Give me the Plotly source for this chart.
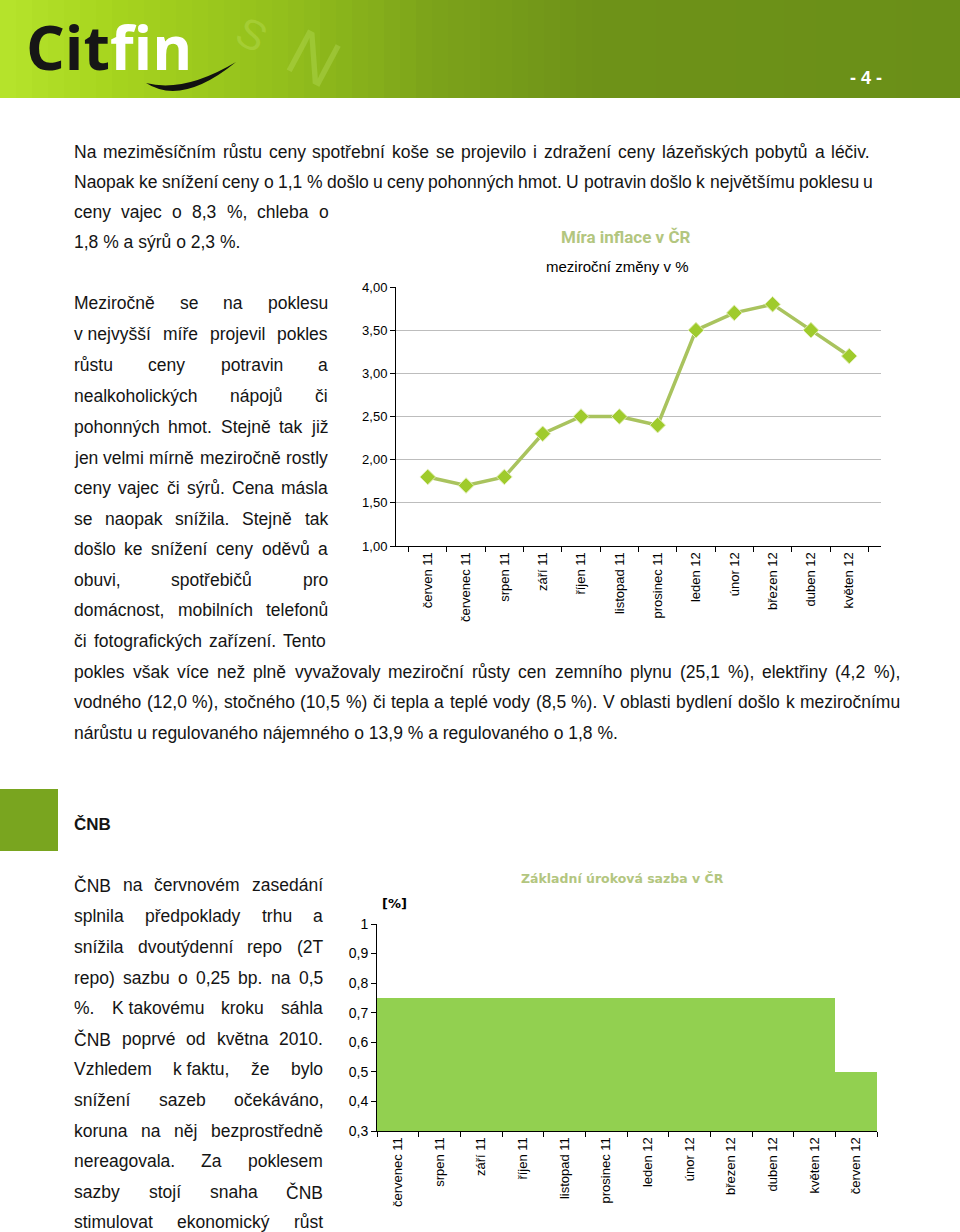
import plotly.graph_objects as go

W, H = 960, 1232

# ---------------- data ----------------
infl_months = ["červen 11", "červenec 11", "srpen 11", "září 11", "říjen 11", "listopad 11",
               "prosinec 11", "leden 12", "únor 12", "březen 12", "duben 12", "květen 12"]
infl_values = [1.8, 1.7, 1.8, 2.3, 2.5, 2.5, 2.4, 3.5, 3.7, 3.8, 3.5, 3.2]
infl_ticks = [1.0, 1.5, 2.0, 2.5, 3.0, 3.5, 4.0]

rate_months = ["červenec 11", "srpen 11", "září 11", "říjen 11", "listopad 11", "prosinec 11",
               "leden 12", "únor 12", "březen 12", "duben 12", "květen 12", "červen 12"]
rate_values = [0.75, 0.75, 0.75, 0.75, 0.75, 0.75, 0.75, 0.75, 0.75, 0.75, 0.75, 0.5]
rate_tickvals = [0.3, 0.4, 0.5, 0.6, 0.7, 0.8, 0.9, 1.0]
rate_ticktext = ["0,3", "0,4", "0,5", "0,6", "0,7", "0,8", "0,9", "1"]

NB = "\u00a0"
# (y centre px, text, mode, left px, right px)
body_lines = [
    (152, "Na meziměsíčním růstu ceny spotřební koše se projevilo i zdražení ceny lázeňských pobytů a léčiv.", "j", 73, 870),
    (182, "Naopak ke snížení ceny o 1,1 % došlo u ceny pohonných hmot. U potravin došlo k největšímu poklesu u", "j", 73, 872),
    (212, "ceny vajec o 8,3 %, chleba o", "j", 73, 328),
    (242, "1,8 % a sýrů o 2,3 %.", "l", 73, 328),
    (303, "Meziročně se na poklesu", "j", 73, 327),
    (334, "v" + NB + "nejvyšší míře projevil pokles", "j", 73, 327),
    (365, "růstu ceny potravin a", "j", 73, 327),
    (396, "nealkoholických nápojů či", "j", 73, 327),
    (427, "pohonných hmot. Stejně tak již", "j", 73, 327),
    (458, "jen velmi mírně meziročně rostly", "j", 73, 327),
    (488, "ceny vajec či sýrů. Cena másla", "j", 73, 327),
    (519, "se naopak snížila. Stejně tak", "j", 73, 327),
    (549, "došlo ke snížení ceny oděvů a", "j", 73, 327),
    (580, "obuvi, spotřebičů pro", "j", 73, 327),
    (610, "domácnost, mobilních telefonů", "j", 73, 327),
    (641, "či fotografických zařízení. Tento", "j", 73, 327),
    (672, "pokles však více než plně vyvažovaly meziroční růsty cen zemního plynu (25,1 %), elektřiny (4,2 %),", "j", 73, 899),
    (702, "vodného (12,0 %), stočného (10,5 %) či tepla a teplé vody (8,5 %). V oblasti bydlení došlo k meziročnímu", "j", 73, 899),
    (733, "nárůstu u regulovaného nájemného o 13,9 % a regulovaného o 1,8 %.", "l", 73, 899),
    (885, "ČNB na červnovém zasedání", "j", 73, 322),
    (916, "splnila předpoklady trhu a", "j", 73, 322),
    (947, "snížila dvoutýdenní repo (2T", "j", 73, 322),
    (978, "repo) sazbu o 0,25 bp. na 0,5", "j", 73, 322),
    (1008, "%. K" + NB + "takovému kroku sáhla", "j", 73, 322),
    (1039, "ČNB poprvé od května 2010.", "j", 73, 322),
    (1069, "Vzhledem k" + NB + "faktu, že bylo", "j", 73, 322),
    (1100, "snížení sazeb očekáváno,", "j", 73, 322),
    (1131, "koruna na něj bezprostředně", "j", 73, 322),
    (1161, "nereagovala. Za poklesem", "j", 73, 322),
    (1192, "sazby stojí snaha ČNB", "j", 73, 322),
    (1222, "stimulovat ekonomický růst", "j", 73, 322),
]

# ---------------- helpers ----------------
def px(x):
    return x / W


def py(y):
    return 1 - y / H


AW = {" ": 278, NB: 278, "!": 278, "%": 889, "(": 333, ")": 333, ",": 278, "-": 333, ".": 278,
      ":": 278, ";": 278}
for c in "0123456789":
    AW[c] = 556
AW.update({"A": 667, "B": 667, "C": 722, "D": 722, "E": 667, "F": 611, "G": 778, "H": 722, "I": 278,
           "J": 500, "K": 667, "L": 556, "M": 833, "N": 722, "O": 778, "P": 667, "Q": 778, "R": 722,
           "S": 667, "T": 611, "U": 722, "V": 667, "W": 944, "X": 667, "Y": 667, "Z": 611,
           "Č": 722, "Š": 667, "Ž": 611, "Ř": 722})
AW.update({"a": 556, "b": 556, "c": 500, "d": 556, "e": 556, "f": 278, "g": 556, "h": 556, "i": 222,
           "j": 222, "k": 500, "l": 222, "m": 833, "n": 556, "o": 556, "p": 556, "q": 556, "r": 333,
           "s": 500, "t": 278, "u": 556, "v": 500, "w": 722, "x": 500, "y": 500, "z": 500,
           "á": 556, "é": 556, "ě": 556, "í": 278, "ó": 556, "ú": 556, "ů": 556, "ý": 500, "č": 500,
           "ď": 615, "ň": 556, "ř": 333, "š": 500, "ť": 278, "ž": 500})


def tw(s, fs):
    return sum(AW.get(c, 556) for c in s) / 1000.0 * fs


BODY_FONT = "Liberation Sans, Arial, sans-serif"
BODY_SIZE = 17.5
TEXT_COL = "#141414"
annotations = []


def add_text(x, y, text, size=BODY_SIZE, color=TEXT_COL, family=BODY_FONT, xanchor="left", bold=False, **kw):
    d = dict(x=px(x), y=py(y), xref="paper", yref="paper", text=("<b>%s</b>" % text) if bold else text,
             showarrow=False, xanchor=xanchor, yanchor="middle", borderpad=0,
             font=dict(size=size, color=color, family=family))
    d.update(kw)
    annotations.append(d)


def add_line(y, text, mode, x0, x1, fs=BODY_SIZE):
    if mode == "l":
        add_text(x0, y, text, size=fs)
        return
    words = text.split(" ")
    n = len(words)
    widths = [tw(w, fs) for w in words]
    total = sum(widths)
    if n > 1 and total + (n - 1) * 3.5 > (x1 - x0):
        fs = fs * ((x1 - x0) - (n - 1) * 3.5) / total
        widths = [tw(w, fs) for w in words]
        total = sum(widths)
    gap = (x1 - x0 - total) / (n - 1) if n > 1 else 0
    x = x0
    for w, wd in zip(words, widths):
        add_text(x, y, w, size=fs)
        x += wd + gap


for ln in body_lines:
    add_line(*ln)

# ---------------- figure ----------------
fig = go.Figure()

fig.add_trace(go.Scatter(
    x=infl_months, y=infl_values, mode="lines+markers", xaxis="x", yaxis="y",
    line=dict(color="#a9c35e", width=3.5),
    marker=dict(symbol="diamond", size=12, color="#9fcb2c", line=dict(color="#e2edb6", width=1)),
    hoverinfo="x+y"))

fig.add_trace(go.Bar(
    x=rate_months, y=rate_values, xaxis="x2", yaxis="y2",
    marker=dict(color="#92d050", line=dict(width=0))))

axis_font = dict(family=BODY_FONT, size=13, color="#000000")

shapes = []
# header banner gradient
stops = [(0.0, (182, 228, 44)), (0.12, (166, 212, 30)), (0.3, (146, 190, 28)),
         (0.45, (124, 163, 26)), (0.62, (110, 146, 24)), (1.0, (106, 143, 24))]


def grad(t):
    for (t0, c0), (t1, c1) in zip(stops[:-1], stops[1:]):
        if t0 <= t <= t1:
            f = (t - t0) / (t1 - t0)
            return "rgb(%d,%d,%d)" % tuple(round(a + (b - a) * f) for a, b in zip(c0, c1))
    return "rgb(%d,%d,%d)" % stops[-1][1]


NS = 60
for i in range(NS):
    x0 = i * W / NS
    x1 = (i + 1) * W / NS + 0.6
    shapes.append(dict(type="rect", xref="paper", yref="paper", x0=px(x0), x1=px(min(x1, W)),
                       y0=py(98), y1=py(0), fillcolor=grad((i + 0.5) / NS), line=dict(width=0),
                       layer="below"))

# logo swoosh
def pt(x, y):
    return "%.5f,%.5f" % (px(x), py(y))


swoosh = "M %s Q %s %s Q %s %s Z" % (pt(146, 83), pt(182, 106), pt(236, 62), pt(184, 93), pt(146, 83))
shapes.append(dict(type="path", xref="paper", yref="paper", path=swoosh, fillcolor="#111111",
                   line=dict(width=0), layer="above"))

# section marker square
shapes.append(dict(type="rect", xref="paper", yref="paper", x0=0, x1=px(58), y0=py(851), y1=py(789),
                   fillcolor="#79a51f", line=dict(width=0)))

# faint background lettering in banner
for (lx, ly, ls, lt) in [(252, 34, 42, "S"), (314, 58, 66, "N")]:
    annotations.append(dict(x=px(lx), y=py(ly), xref="paper", yref="paper", text=lt, showarrow=False,
                            xanchor="center", yanchor="middle", textangle=28,
                            font=dict(size=ls, color="rgba(215,245,140,0.22)",
                                      family="Liberation Sans, Arial, sans-serif")))
# logo
annotations.append(dict(x=px(25), y=py(46), xref="paper", yref="paper", xanchor="left", yanchor="middle",
                        showarrow=False, borderpad=0,
                        text="<b><span style='color:#161616'>Cit</span><span style='color:#ffffff'>fin</span></b>",
                        font=dict(size=61, family="Open Sans, Noto Sans, sans-serif")))
# page number
add_text(866, 78, "- 4 -", size=18, color="#ffffff", xanchor="center", bold=True)
# section heading
add_text(73, 825, "ČNB", size=17, bold=True)

# chart titles
add_text(626, 237, "Míra inflace v ČR", size=17, color="#b3c67f", xanchor="center", bold=True,
         family="Liberation Sans Narrow, Arial Narrow, Roboto, sans-serif")
add_text(617, 266, "meziroční změny v %", size=15, color="#000000", xanchor="center")
add_text(622, 878, "Základní úroková sazba v ČR", size=12.5, color="#b3c67f", xanchor="center", bold=True,
         family="DejaVu Sans, Verdana, sans-serif")
add_text(394, 903, "[%]", size=13, color="#000000", xanchor="center", bold=True,
         family="DejaVu Sans, Verdana, sans-serif")

fig.update_layout(
    width=W, height=H, margin=dict(l=0, r=0, t=0, b=0, pad=0, autoexpand=False),
    paper_bgcolor="#ffffff", plot_bgcolor="#ffffff",
    showlegend=False, separators=", ", bargap=0,
    font=dict(family=BODY_FONT, color="#000000"),
    xaxis=dict(domain=[px(396), px(881)], anchor="y", type="category", showline=True,
               linecolor="#000000", linewidth=1, ticks="outside", tickson="boundaries", ticklen=5,
               tickcolor="#000000", tickangle=-90, tickfont=axis_font, showgrid=False, fixedrange=True),
    yaxis=dict(domain=[py(546), py(287)], anchor="x", range=[1, 4], tickvals=infl_ticks,
               tickformat=".2f", showgrid=True, gridcolor="#bdbdbd", gridwidth=1, showline=True,
               linecolor="#000000", linewidth=1, ticks="outside", ticklen=5, tickcolor="#000000",
               tickfont=axis_font, zeroline=False, fixedrange=True),
    xaxis2=dict(domain=[px(377), px(877)], anchor="y2", type="category", showline=True,
                linecolor="#000000", linewidth=1, ticks="outside", tickson="boundaries", ticklen=5,
                tickcolor="#000000", tickangle=-90, tickfont=axis_font, showgrid=False, fixedrange=True),
    yaxis2=dict(domain=[py(1131), py(924)], anchor="x2", range=[0.3, 1.0], tickvals=rate_tickvals,
                ticktext=rate_ticktext, showgrid=False, showline=True, linecolor="#000000", linewidth=1,
                ticks="outside", ticklen=5, tickcolor="#000000", tickfont=dict(family=BODY_FONT, size=14,
                                                                                 color="#000000"),
                zeroline=False, fixedrange=True),
    shapes=shapes,
    annotations=annotations,
)

post = ("document.body.style.margin='0px';document.body.style.overflow='hidden';"
        "var gd=document.getElementById('{plot_id}');gd.style.position='absolute';"
        "gd.style.left='0px';gd.style.top='0px';")
fig.write_html("out.html", post_script=post, config={"displayModeBar": False})
